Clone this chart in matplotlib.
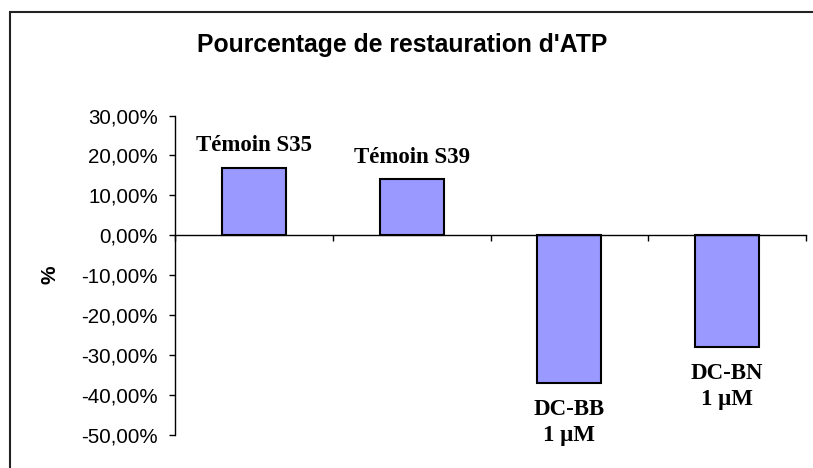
import matplotlib.pyplot as plt
from matplotlib.patches import Rectangle
from matplotlib.ticker import FuncFormatter

# Restauration d'ATP par condition (en %)
categories = ["Témoin S35", "Témoin S39", "DC-BB\n1 µM", "DC-BN\n1 µM"]
values = [16.9, 14.0, -37.0, -28.0]
y_ticks = [30, 20, 10, 0, -10, -20, -30, -40, -50]

fig = plt.figure(figsize=(8.13, 4.68), dpi=100)
ax = fig.add_axes([175 / 813, 1 - 435.3 / 468, (806 - 175) / 813, (435.3 - 115.5) / 468])

x = range(len(values))
bars = ax.bar(x, values, width=0.405, color="#9999FF", edgecolor="black", linewidth=1.5, zorder=3)

ax.set_xlim(-0.5, len(values) - 0.5)
ax.set_ylim(-50, 30)
ax.set_yticks(y_ticks)
ax.yaxis.set_major_formatter(FuncFormatter(lambda v, _: f"{v:.2f}%".replace(".", ",")))
ax.set_xticks([i - 0.5 for i in range(len(values) + 1)])
ax.set_xticklabels([])

for side in ("top", "right"):
    ax.spines[side].set_visible(False)
ax.spines["bottom"].set_position(("data", 0))
ax.spines["bottom"].set_zorder(4)
for sp in ax.spines.values():
    sp.set_linewidth(1.0)

ax.tick_params(axis="y", direction="out", length=4.3, width=1.0, pad=8,
               labelsize=14.8, labelfontfamily="Liberation Sans")
ax.tick_params(axis="x", direction="out", length=4.0, width=1.0)

# étiquettes des barres
for i, (lab, v) in enumerate(zip(categories, values)):
    if v >= 0:
        ax.annotate(lab, (i, v), xytext=(0, 8.5), textcoords="offset points",
                    ha="center", va="bottom", fontsize=16.5, fontweight="bold",
                    family="Liberation Serif", linespacing=1.35)
    else:
        ax.annotate(lab, (i, v), xytext=(0, -11), textcoords="offset points",
                    ha="center", va="top", fontsize=16.5, fontweight="bold",
                    family="Liberation Serif", linespacing=1.35)

fig.text(402.5 / 813, 1 - 52 / 468, "Pourcentage de restauration d'ATP",
         ha="center", va="baseline", fontsize=17.8, fontweight="bold",
         family="Liberation Sans")
fig.text(50 / 813, 1 - 275 / 468, "%", rotation=90, ha="center", va="center",
         fontsize=15, fontweight="bold", family="Liberation Sans")

# cadre de la zone graphique
fig.patches.append(Rectangle((9.5 / 813, -0.2), 1.2, 1.2 - 11.5 / 468,
                             transform=fig.transFigure, fill=False,
                             edgecolor="#222222", linewidth=1.5))

fig.savefig("out.png", dpi=100)
